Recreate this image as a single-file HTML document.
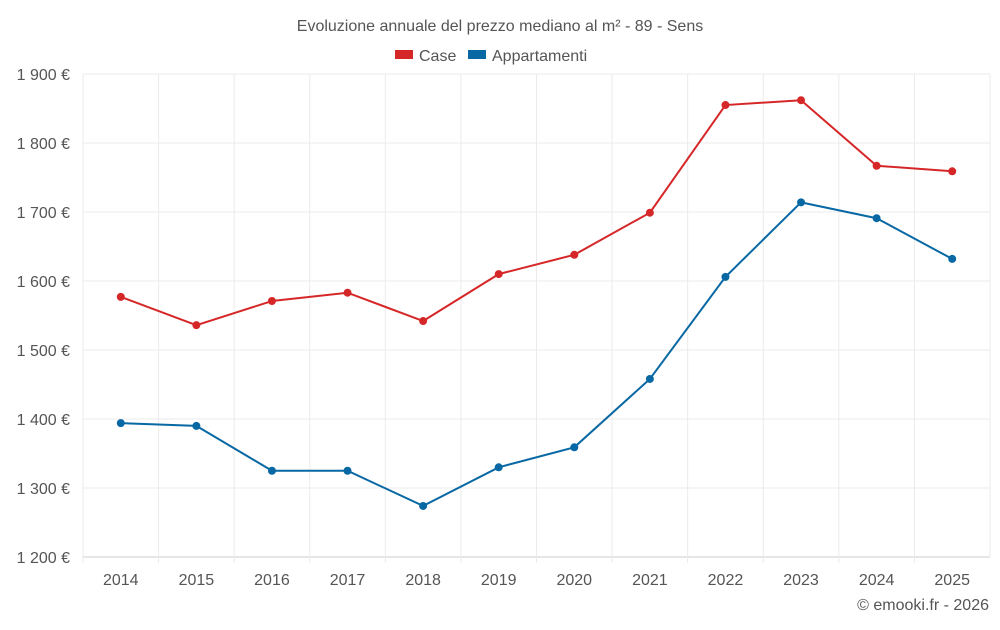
<!DOCTYPE html>
<html><head><meta charset="utf-8"><style>
body{margin:0;background:#fff;font-family:"Liberation Sans",sans-serif;}
svg text{font-family:"Liberation Sans",sans-serif;}
</style></head><body>
<svg id="chart" width="1000" height="625">
<text x="500" y="31" text-anchor="middle" font-size="16" fill="#555">Evoluzione annuale del prezzo mediano al m² - 89 - Sens</text>
<g>
<g><rect x="395" y="50" width="18" height="9" fill="#d62728"/><text x="419" y="61" font-size="16" fill="#555">Case</text></g>
<g><rect x="468" y="50" width="18" height="9" fill="#0868a4"/><text x="492" y="61" font-size="16" fill="#555">Appartamenti</text></g>
</g>
<g id="grid"></g><g id="axes"></g><g id="series"></g>
<text x="989" y="610" text-anchor="end" font-size="16" fill="#555">© emooki.fr - 2026</text>
</svg>
<script>
const years=[2014,2015,2016,2017,2018,2019,2020,2021,2022,2023,2024,2025];
const caseVals=[1577,1536,1571,1583,1542,1610,1638,1699,1855,1862,1767,1759];
const aptVals=[1394,1390,1325,1325,1274,1330,1359,1458,1606,1714,1691,1632];
const yTicks=[1200,1300,1400,1500,1600,1700,1800,1900];
const NS="http://www.w3.org/2000/svg";
const x0=83,x1=990,yTop=74,yBot=557,yMin=1200,yMax=1900;
const step=(x1-x0)/years.length;
const xs=i=>x0+step*(i+0.5);
const ys=v=>yBot-(v-yMin)/(yMax-yMin)*(yBot-yTop);
function mk(t,a,p){const e=document.createElementNS(NS,t);for(const k in a)e.setAttribute(k,a[k]);p.appendChild(e);return e;}
const grid=document.getElementById('grid'),axes=document.getElementById('axes'),ser=document.getElementById('series');
yTicks.forEach(v=>{
const l=mk('line',{x1:x0,x2:x1,y1:ys(v),y2:ys(v),stroke:v===yMin?'#ccc':'#ebebeb'},grid);


const t=mk('text',{x:70,y:ys(v)+6,'text-anchor':'end','font-size':16,fill:'#555'},axes);
t.textContent=String(v).replace(/(\d)(\d{3})$/,'$1 $2')+' €';


});
for(let i=0;i<=years.length;i++){
const l=mk('line',{x1:x0+step*i,x2:x0+step*i,y1:yTop,y2:yBot+(i<years.length?6:0),stroke:'#ebebeb'},grid);


}
years.forEach((y,i)=>{
const t=mk('text',{x:xs(i),y:585,'text-anchor':'middle','font-size':16,fill:'#555'},axes);
t.textContent=y;


});
function series(vals,col,name){
const p=mk('polyline',{points:vals.map((v,i)=>xs(i)+','+ys(v)).join(' '),fill:'none',stroke:col,'stroke-width':2},ser);


vals.forEach((v,i)=>{
const c=mk('circle',{cx:xs(i),cy:ys(v),r:4,fill:col},ser);


});
}
series(caseVals,'#d62728','case');
series(aptVals,'#0868a4','appartamenti');
</script>
</body></html>
